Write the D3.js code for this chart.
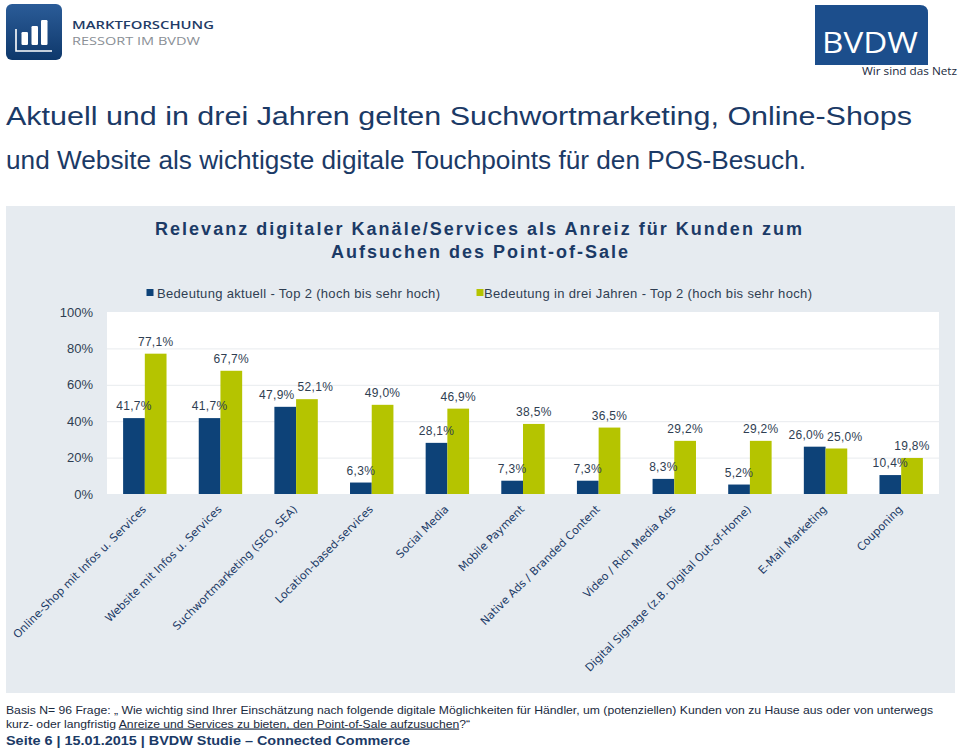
<!DOCTYPE html>
<html><head><meta charset="utf-8">
<script src="https://cdn.jsdelivr.net/npm/d3@7/dist/d3.min.js"></script>
<style>html,body{margin:0;padding:0;background:#fff;}svg{display:block;}</style>
</head><body>
<script>
const categories = ["Online-Shop mit Infos u. Services","Website mit Infos u. Services","Suchwortmarketing (SEO, SEA)","Location-based-services","Social Media","Mobile Payment","Native Ads / Branded Content","Video / Rich Media Ads","Digital Signage (z.B. Digital Out-of-Home)","E-Mail Marketing","Couponing"];
const aktuell = [41.7,41.7,47.9,6.3,28.1,7.3,7.3,8.3,5.2,26.0,10.4];
const dreiJahre = [77.1,67.7,52.1,49.0,46.9,38.5,36.5,29.2,29.2,25.0,19.8];
const seriesNames = ["Bedeutung aktuell - Top 2 (hoch bis sehr hoch)","Bedeutung in drei Jahren - Top 2 (hoch bis sehr hoch)"];
const yTicks = [0,20,40,60,80,100];
const headline = ["Aktuell und in drei Jahren gelten Suchwortmarketing, Online-Shops","und Website als wichtigste digitale Touchpoints für den POS-Besuch."];
const chartTitle = ["Relevanz digitaler Kanäle/Services als Anreiz für Kunden zum","Aufsuchen des Point-of-Sale"];

const W=960,H=750;
const NAVY="#0d4278", GREEN="#b5c400", PANEL="#e6ebf0", TXT="#2f3e52", HEAD="#1b3a66";
const svg=d3.select("body").append("svg").attr("width",W).attr("height",H);

// ---- Logos ----
const defs=svg.append("defs");
const lg=defs.append("linearGradient").attr("id","lg").attr("x1",0).attr("y1",0).attr("x2",0).attr("y2",1);
lg.append("stop").attr("offset","0%").attr("stop-color","#2b5c98");
lg.append("stop").attr("offset","100%").attr("stop-color","#0e386b");
const logo=svg.append("g");
logo.append("rect").attr("x",6).attr("y",4).attr("width",56).attr("height",56).attr("rx",6).attr("fill","url(#lg)");
logo.append("path").attr("d","M16,29 V51 H52").attr("stroke","#fff").attr("stroke-width",1.6).attr("fill","none");
[[21.5,32],[31.5,26],[41,20]].forEach(([x,y])=>logo.append("rect").attr("x",x).attr("y",y).attr("width",6.5).attr("height",45-y).attr("rx",1.2).attr("fill","#fff"));
logo.append("text").attr("x",72).attr("y",28.5).attr("textLength",142).attr("lengthAdjust","spacingAndGlyphs")
  .attr("font-family","Open Sans, Liberation Sans").attr("font-weight",600).attr("font-size",11.5).attr("fill","#1f3b66").text("MARKTFORSCHUNG");
logo.append("text").attr("x",72).attr("y",44.5).attr("textLength",128).attr("lengthAdjust","spacingAndGlyphs")
  .attr("font-family","Open Sans, Liberation Sans").attr("font-size",11.5).attr("fill","#8a8f96").text("RESSORT IM BVDW");
const b=svg.append("g");
b.append("path").attr("d","M815,5 H920 Q928,5 928,13 V65 H815 Z").attr("fill","#1c4e8c");
b.append("text").attr("x",822).attr("y",53).attr("textLength",96).attr("lengthAdjust","spacingAndGlyphs")
  .attr("font-family","Open Sans, Liberation Sans").attr("font-size",29).attr("fill","#fff").text("BVDW");
b.append("text").attr("x",862).attr("y",75).attr("textLength",95).attr("lengthAdjust","spacingAndGlyphs")
  .attr("font-family","Open Sans, Liberation Sans").attr("font-size",11.5).attr("fill","#1a2a40").text("Wir sind das Netz");

// ---- Headline ----
const hl=svg.append("g").attr("font-family","Liberation Sans Narrow, Liberation Sans, Arial").attr("font-size",26).attr("fill",HEAD);
hl.append("text").attr("x",6).attr("y",125).attr("textLength",906).attr("lengthAdjust","spacingAndGlyphs").text(headline[0]);
hl.append("text").attr("x",6).attr("y",169).attr("textLength",800).attr("lengthAdjust","spacingAndGlyphs").text(headline[1]);

// ---- Panel ----
svg.append("rect").attr("x",6).attr("y",206).attr("width",949).attr("height",487).attr("fill",PANEL);
const tt=svg.append("g").attr("font-family","Liberation Sans, Arial").attr("font-weight","bold").attr("font-size",18).attr("fill",HEAD);
tt.append("text").attr("x",155).attr("y",235).attr("textLength",647).attr("lengthAdjust","spacing").text(chartTitle[0]);
tt.append("text").attr("x",331).attr("y",258).attr("textLength",297).attr("lengthAdjust","spacing").text(chartTitle[1]);

// legend
const leg=svg.append("g").attr("font-family","Liberation Sans, Arial").attr("font-size",13).attr("fill",TXT);
[[146.5,157,283,NAVY],[476.5,484,328,GREEN]].forEach(([sx,tx,tl,c],i)=>{
  leg.append("rect").attr("x",sx).attr("y",289).attr("width",7).attr("height",7).attr("fill",c);
  leg.append("text").attr("x",tx).attr("y",297.5).attr("textLength",tl).attr("lengthAdjust","spacing").text(seriesNames[i]);
});

// ---- Plot ----
const px0=107,px1=939,py0=312,py1=494;
const x=d3.scaleBand().domain(categories).range([px0,px1]).paddingInner(0.426).paddingOuter(0.213);
const xs=d3.scaleBand().domain([0,1]).range([0,x.bandwidth()]);
const y=d3.scaleLinear().domain([0,100]).range([py1,py0]);
svg.append("rect").attr("x",px0).attr("y",py0).attr("width",px1-px0).attr("height",py1-py0).attr("fill","#fff");
svg.append("g").selectAll("line").data(yTicks.filter(t=>t>0&&t<100)).join("line")
  .attr("x1",px0).attr("x2",px1).attr("y1",d=>y(d)+0.5).attr("y2",d=>y(d)+0.5).attr("stroke","#e8ebee").attr("stroke-width",1);
const yAxis=d3.axisLeft(y).tickValues(yTicks).tickFormat(d=>d+"%").tickSize(0).tickPadding(14);
const ya=svg.append("g").attr("transform",`translate(${px0},0)`).call(yAxis);
ya.select(".domain").remove();
ya.selectAll("text").attr("font-family","Liberation Sans, Arial").attr("font-size",13).attr("fill",TXT);

const series=[aktuell,dreiJahre], colors=[NAVY,GREEN];
const gb=svg.append("g");
series.forEach((vals,si)=>{
  gb.append("g").selectAll("rect").data(vals).join("rect")
    .attr("x",(d,i)=>x(categories[i])+xs(si)).attr("width",xs.bandwidth())
    .attr("y",d=>y(d)).attr("height",d=>y(0)-y(d)).attr("fill",colors[si]);
});
// value labels with simple collision avoidance
const fmt=v=>v.toFixed(1).replace(".",",")+"%";
const gl=svg.append("g").attr("font-family","Liberation Sans, Arial").attr("font-size",12).attr("fill",TXT).attr("text-anchor","middle").attr("letter-spacing",0.3);
categories.forEach((c,i)=>{
  const labs=series.map((vals,si)=>{
    const t=gl.append("text").attr("x",x(c)+xs(si)+xs.bandwidth()/2).attr("y",y(vals[i])-8).text(fmt(vals[i]));
    return {t,cx:x(c)+xs(si)+xs.bandwidth()/2,cy:y(vals[i])-8,w:t.node().getComputedTextLength()};
  });
  const [a,g]=labs;
  if(Math.abs(a.cy-g.cy)<13){
    const ov=(a.w/2+g.w/2+3)-(g.cx-a.cx);
    if(ov>0){a.t.attr("x",a.cx-ov/2);g.t.attr("x",g.cx+ov/2);}
  }
});
// x labels
const gx=svg.append("g").attr("font-family","DejaVu Sans, Verdana").attr("font-size",11).attr("fill","#1b3a66");
categories.forEach(c=>{
  const cx=x(c)+x.bandwidth()/2+2, cy=510;
  gx.append("text").attr("text-anchor","end").attr("transform",`translate(${cx},${cy}) rotate(-45)`).text(c);
});

// ---- Footer ----
const ft=svg.append("g").attr("font-family","Liberation Sans Narrow, Liberation Sans, Arial").attr("font-size",11.5).attr("fill","#1a2a40");
ft.append("text").attr("x",6).attr("y",714).attr("textLength",927).attr("lengthAdjust","spacingAndGlyphs")
  .text("Basis N= 96 Frage: „ Wie wichtig sind Ihrer Einschätzung nach folgende digitale Möglichkeiten für Händler, um (potenziellen) Kunden von zu Hause aus oder von unterwegs");
const l2=ft.append("text").attr("x",6).attr("y",727.5).attr("textLength",464).attr("lengthAdjust","spacingAndGlyphs");
l2.append("tspan").text("kurz- oder langfristig ");
l2.append("tspan").attr("text-decoration","underline").text("Anreize und Services zu bieten, den Point-of-Sale aufzusuchen");
l2.append("tspan").text("?“");
svg.append("text").attr("x",6).attr("y",745).attr("textLength",404).attr("lengthAdjust","spacingAndGlyphs")
  .attr("font-family","Liberation Sans Narrow, Liberation Sans, Arial").attr("font-weight","bold").attr("font-size",13).attr("fill",HEAD)
  .text("Seite 6 | 15.01.2015 | BVDW Studie – Connected Commerce");
</script>
</body></html>
